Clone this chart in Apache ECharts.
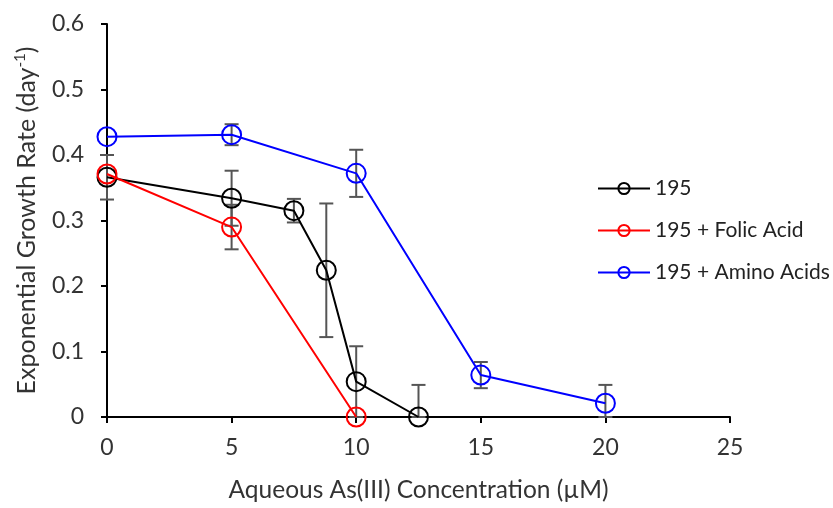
<!DOCTYPE html>
<html><head><meta charset="utf-8">
<script src="https://cdn.jsdelivr.net/npm/echarts@6/dist/echarts.min.js"></script>
<style>html,body{margin:0;padding:0;background:#fff}#c{width:833px;height:508px}</style>
</head><body><div id="c"></div>
<script>
const xTicks = [0, 5, 10, 15, 20, 25];
const yTicks = [0, 0.1, 0.2, 0.3, 0.4, 0.5, 0.6];
const seriesNames = ['195', '195 + Folic Acid', '195 + Amino Acids'];
const seriesColors = ['#000000', '#ff0000', '#0000ff'];
const x195 = [0, 5, 7.5, 8.8, 10, 12.5];
const y195 = [0.366, 0.334, 0.315, 0.224, 0.054, 0.0];
const e195 = [0.034, 0.042, 0.018, 0.102, 0.054, 0.049];
const xFolic = [0, 5, 10];
const yFolic = [0.371, 0.290, 0.0];
const eFolic = [0.0, 0.034, 0.0];
const xAmino = [0, 5, 10, 15, 20];
const yAmino = [0.428, 0.431, 0.372, 0.064, 0.021];
const eAmino = [0.0, 0.016, 0.036, 0.02, 0.028];

const chart = echarts.init(document.getElementById('c'));
const font = 'Lato, "Open Sans", sans-serif';
function pts(xs, ys) { return xs.map((x, i) => [x, ys[i]]); }
function errData(xs, ys, es) { return xs.map((x, i) => [x, ys[i], es[i]]).filter(d => d[2] > 0); }
const allErr = [].concat(errData(x195, y195, e195), errData(xFolic, yFolic, eFolic), errData(xAmino, yAmino, eAmino));

const lineSeries = [[x195, y195], [xFolic, yFolic], [xAmino, yAmino]].map((s, i) => ({
  name: seriesNames[i], type: 'line', data: pts(s[0], s[1]),
  symbol: 'circle', symbolSize: 19, z: 3 + i,
  lineStyle: { color: seriesColors[i], width: 2 },
  itemStyle: { color: 'rgba(255,255,255,0)', borderColor: seriesColors[i], borderWidth: 2 }
}));

chart.setOption({
  animation: false,
  grid: { left: 107, right: 103, top: 24, bottom: 90 },
  xAxis: {
    type: 'value', min: 0, max: 25, interval: 5,
    name: 'Aqueous As(III) Concentration (µM)', nameLocation: 'middle', nameGap: 61,
    nameTextStyle: { fontFamily: font, fontSize: 24.5, color: '#333' },
    axisLine: { lineStyle: { color: '#000', width: 2 } },
    axisTick: { show: true, length: 6, lineStyle: { color: '#000', width: 2 } },
    axisLabel: { fontFamily: font, fontSize: 23, color: '#333', margin: 19 },
    splitLine: { show: false }
  },
  yAxis: {
    type: 'value', min: 0, max: 0.6, interval: 0.1,
    name: 'Exponential Growth Rate (day{sup|-1})', nameLocation: 'middle', nameGap: 67,
    nameTextStyle: { fontFamily: font, fontSize: 25, color: '#333',
      rich: { sup: { fontFamily: font, fontSize: 15, color: '#333', verticalAlign: 'top', padding: [0, 0, 12, 0] } } },
    axisLine: { show: true, lineStyle: { color: '#000', width: 2 } },
    axisTick: { show: true, length: 6, lineStyle: { color: '#000', width: 2 } },
    axisLabel: { fontFamily: font, fontSize: 23, color: '#333', margin: 23,
      formatter: v => (v === 0 ? '0' : v.toFixed(1)) },
    splitLine: { show: false }
  },
  legend: {
    data: seriesNames, orient: 'vertical', left: 592, top: 173, itemGap: 21,
    itemWidth: 52, itemHeight: 14,
    textStyle: { fontFamily: font, fontSize: 21, color: '#222' }
  },
  series: [{
    type: 'custom', name: 'err', data: allErr, z: 2, silent: true,
    renderItem: function (params, api) {
      const x = api.value(0), y = api.value(1), e = api.value(2);
      const lo = api.coord([x, Math.max(0, y - e)]);
      const hi = api.coord([x, y + e]);
      const cw = 7;
      const st = { stroke: '#555', lineWidth: 2 };
      return { type: 'group', children: [
        { type: 'line', shape: { x1: hi[0], y1: hi[1], x2: lo[0], y2: lo[1] }, style: st },
        { type: 'line', shape: { x1: hi[0] - cw, y1: hi[1], x2: hi[0] + cw, y2: hi[1] }, style: st },
        { type: 'line', shape: { x1: lo[0] - cw, y1: lo[1], x2: lo[0] + cw, y2: lo[1] }, style: st }
      ] };
    }
  }].concat(lineSeries)
});
</script></body></html>
